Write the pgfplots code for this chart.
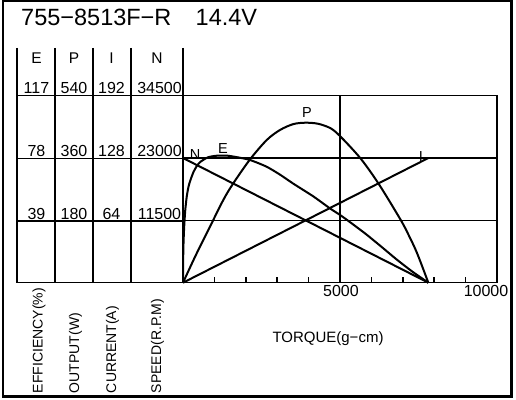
\documentclass[border=0pt]{standalone}
\usepackage{pgfplots}
\pgfplotsset{compat=1.18}
\usepackage{fontspec}
\setmainfont{Liberation Sans}
\newcommand\fs[1]{\fontsize{#1bp}{#1bp}\selectfont}

\pgfplotsset{
  motor/.style={
    at={(183bp,117.3bp)}, anchor=south west,
    width=314bp, height=187bp, scale only axis,
    xmin=0, xmax=10000, ymin=0, clip=false,
    scaled ticks=false,
  },
  curve/.style={black, line width=2bp, no markers},
  hidden/.style={motor, hide axis},
}

\begin{document}
\begin{tikzpicture}
\path (0,0) rectangle (516bp,400bp);
\draw[line width=2.2bp] (3bp,3.4bp) rectangle (511.5bp,398.6bp);

% table lines left of the plot
\foreach \yy in {304.3,241.3,179,117.3}
  \draw[line width=1.6bp] (17bp,\yy bp) -- (183bp,\yy bp);
\foreach \xx in {17,55,93,131}
  \draw[line width=1.6bp] (\xx bp,352bp) -- (\xx bp,117.3bp);
\draw[line width=1.6bp] (183bp,352bp) -- (183bp,304.3bp);

% speed axis (main frame)
\begin{axis}[motor, ymax=34500,
  axis line style={line width=1.6bp},
  xtick={1000,2000,3000,4000,6000,7000,8000,9000}, xticklabels={},
  extra x ticks={5000}, extra x tick labels={},
  extra x tick style={grid=major},
  xtick pos=bottom, tick align=inside, major tick length=6bp,
  tick style={line width=1.5bp, black},
  ytick={11500,23000}, yticklabels={}, ymajorgrids,
  ytick style={draw=none},
  grid style={line width=1.6bp, black},
]
\addplot[curve] coordinates {(0,23000) (7813,0)};
\end{axis}

% current
\begin{axis}[hidden, ymax=192]
\addplot[curve] coordinates {(0,0) (7813,128)};
\end{axis}

% output
\begin{axis}[hidden, ymax=540]
\addplot[curve, smooth, tension=0.5] coordinates {
(0,0) (400,78) (806,152) (1284,239) (1602,287) (2134,356) (2666,412)
(3089,441) (3513,458) (3900,462) (4300,459) (4700,446) (5016,422)
(5653,359) (6235,285) (6935,181) (7200,135) (7456,85) (7813,0)};
\end{axis}

% efficiency
\begin{axis}[hidden, ymax=117]
\addplot[curve, smooth, tension=0.4] coordinates {
(0,0) (5,14) (15,24) (35,34) (70,45) (120,54) (180,60.5) (260,65.5)
(340,69.5) (450,73.3) (560,75.7) (800,78.5) (1100,79.5) (1400,79.5)
(1700,78.6) (2130,76.8) (2660,72.6) (3090,67.6) (3510,62) (4150,54)
(4680,46.5) (5000,42.4) (5270,38.6) (5800,30.8) (6300,22.8)
(6800,14.6) (7300,7) (7813,0)};
\end{axis}

% title
\node[anchor=base west, inner sep=0] at (21bp,374bp) {\fs{23.5}755−8513F−R};
\node[anchor=base west, inner sep=0] at (195.5bp,374bp) {\fs{23.5}14.4V};

% table headings and values
\begin{scope}[every node/.style={anchor=base, inner sep=0}]
\node at (36.5bp,336.7bp) {\fs{15.5}E};
\node at (74bp,336.7bp) {\fs{15.5}P};
\node at (111.5bp,336.7bp) {\fs{15.5}I};
\node at (157bp,336.7bp) {\fs{15.5}N};
\node at (36.5bp,306bp) {\fs{16}117};
\node at (74bp,306bp) {\fs{16}540};
\node at (111.5bp,306bp) {\fs{16}192};
\node at (159.5bp,306bp) {\fs{16}34500};
\node at (36.5bp,243.3bp) {\fs{16}78};
\node at (74bp,243.3bp) {\fs{16}360};
\node at (111.5bp,243.3bp) {\fs{16}128};
\node at (159.5bp,243.3bp) {\fs{16}23000};
\node at (36.5bp,180.7bp) {\fs{16}39};
\node at (74bp,180.7bp) {\fs{16}180};
\node at (111.5bp,180.7bp) {\fs{16}64};
\node at (159.5bp,180.7bp) {\fs{16}11500};
% x tick labels
\node at (341bp,103.3bp) {\fs{16}5000};
\node at (486bp,103.3bp) {\fs{16}10000};
\node at (328bp,57bp) {\fs{15}TORQUE(g−cm)};
% curve labels
\node at (195bp,240bp) {\fs{14.5}N};
\node at (223bp,246.7bp) {\fs{14.5}E};
\node at (307bp,282bp) {\fs{14.5}P};
\node at (421bp,238.3bp) {\fs{14.5}I};
\end{scope}

% rotated axis names
\begin{scope}[every node/.style={anchor=base west, inner sep=0, rotate=90}]
\node at (42.5bp,6.7bp) {\fs{14}EFFICIENCY(\%)};
\node at (79.2bp,6.7bp) {\fs{14}OUTPUT(W)};
\node at (116.2bp,6.7bp) {\fs{14}CURRENT(A)};
\node at (161.2bp,6.7bp) {\fs{14}SPEED(R.P.M)};
\end{scope}
\end{tikzpicture}
\end{document}
